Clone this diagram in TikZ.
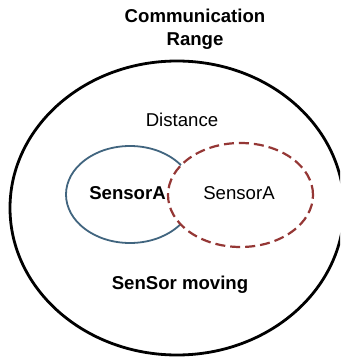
\documentclass[tikz,border=0pt]{standalone}
\usepackage{fontspec}
\setmainfont{Liberation Sans}
\usetikzlibrary{shapes.geometric}
\definecolor{rangeblue}{HTML}{41657F}
\definecolor{movedred}{HTML}{953735}
\tikzset{
  lbl/.style={font=\fontsize{18.6}{23}\selectfont, inner sep=0pt, align=center},
  boldlbl/.style={lbl, font=\fontsize{18.6}{23}\selectfont\bfseries},
  zone/.style={ellipse, inner sep=0pt},
}
\begin{document}
\begin{tikzpicture}[x=1pt,y=-1pt]
  \useasboundingbox[clip] (0,0) rectangle (340,358);
  \fill[white] (0,0) rectangle (340,358);
  % communication range
  \node[zone, draw=black, line width=2.8pt, minimum width=334pt, minimum height=294pt] (range) at (177,208) {};
  % sensor at its old and new positions
  \node[zone, draw=rangeblue, line width=1.8pt, minimum width=128pt, minimum height=97pt] (old) at (130,194.5) {};
  \node[zone, draw=movedred, fill=white, line width=2.2pt, dash pattern=on 10pt off 5pt, minimum width=145pt, minimum height=104pt] (new) at (240.5,195) {};
  % labels
  \node[boldlbl] (title) at (195,29) {Communication\\Range};
  \node[lbl] (dist) at (182,120) {Distance};
  \node[boldlbl] (sa) at (127.5,193) {SensorA};
  \node[lbl] (sb) at (239,193) {SensorA};
  \node[boldlbl] (moving) at (180,285) {SenSor moving};
\end{tikzpicture}
\end{document}
